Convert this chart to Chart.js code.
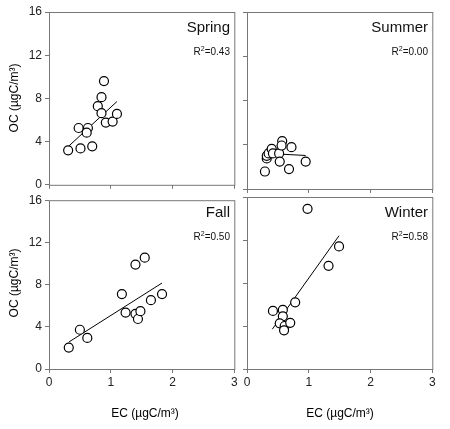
<!DOCTYPE html>
<html><head><meta charset="utf-8">
<script src="https://cdn.jsdelivr.net/npm/chart.js"></script>
<style>
body{margin:0;background:#fff;font-family:"Liberation Sans",Arial,sans-serif;}
canvas{position:absolute;}
.t{position:absolute;color:#111;white-space:nowrap;}
.s{font-size:15px;transform:translateY(-50%);}
.r{font-size:10px;transform:translateY(-50%);}
.ax{font-size:12px;color:#000;}
</style></head><body>
<canvas id="c0" style="left:0;top:0" width="240" height="195"></canvas>
<canvas id="c1" style="left:238px;top:0" width="200" height="195"></canvas>
<canvas id="c2" style="left:0;top:190px" width="240" height="201"></canvas>
<canvas id="c3" style="left:238px;top:190px" width="200" height="201"></canvas>
<div class="t s" style="right:220px;top:26px">Spring</div>
<div class="t r" style="right:220px;top:51px">R<sup style="font-size:7px">2</sup>=0.43</div>
<div class="t s" style="right:22px;top:26px">Summer</div>
<div class="t r" style="right:22px;top:51px">R<sup style="font-size:7px">2</sup>=0.00</div>
<div class="t s" style="right:220px;top:211px">Fall</div>
<div class="t r" style="right:220px;top:236px">R<sup style="font-size:7px">2</sup>=0.50</div>
<div class="t s" style="right:22px;top:211px">Winter</div>
<div class="t r" style="right:22px;top:236px">R<sup style="font-size:7px">2</sup>=0.58</div>
<div class="t ax" style="left:145px;top:406px;transform:translateX(-50%)">EC (µgC/m³)</div>
<div class="t ax" style="left:340px;top:406px;transform:translateX(-50%)">EC (µgC/m³)</div>
<div class="t ax" style="left:14px;top:98px;transform:translate(-50%,-50%) rotate(-90deg)">OC (µgC/m³)</div>
<div class="t ax" style="left:14px;top:283px;transform:translate(-50%,-50%) rotate(-90deg)">OC (µgC/m³)</div>
<script>
const xTicks=[0,1,2,3];
const yTicks=[0,4,8,12,16];
const springEC=[0.31,0.51,0.48,0.63,0.61,0.70,0.79,0.85,0.89,0.85,0.92,1.03,1.10];
const springOC=[3.19,3.37,5.26,5.26,4.83,3.56,7.28,8.11,9.6,6.63,5.76,5.85,6.56];
const springFitEC=[0.31,1.10], springFitOC=[3.53,7.71];
const summerEC=[0.29,0.32,0.32,0.35,0.40,0.42,0.52,0.57,0.56,0.53,0.68,0.72,0.95];
const summerOC=[1.58,2.76,3.0,3.22,3.62,3.22,3.22,4.33,3.93,2.48,1.80,3.78,2.48];
const summerFitEC=[0.31,0.95], summerFitOC=[3.22,3.03];
const fallEC=[0.32,0.50,0.62,1.18,1.24,1.40,1.55,1.40,1.44,1.48,1.65,1.83];
const fallOC=[2.03,3.72,2.95,7.1,5.35,9.9,10.55,5.23,4.74,5.48,6.52,7.1];
const fallFitEC=[0.32,1.83], fallFitOC=[2.55,8.15];
const winterEC=[0.98,1.49,1.32,0.78,0.42,0.58,0.58,0.53,0.61,0.60,0.70];
const winterOC=[14.9,11.4,9.6,6.2,5.4,5.5,4.9,4.25,4.0,3.6,4.3];
const winterFitEC=[0.41,1.49], winterFitOC=[3.7,12.4];

const boxPlugin={id:'box',afterDraw(c){const a=c.chartArea,x=c.ctx;x.save();x.strokeStyle='#777';x.lineWidth=1;x.strokeRect(a.left+0.5,a.top+0.5,a.right-a.left,a.bottom-a.top);x.restore();}};
function make(id,ex,oc,fx,fy,left,bottom){
  const pts=ex.map((v,i)=>({x:v,y:oc[i]}));
  const fit=fx.map((v,i)=>({x:v,y:fy[i]}));
  new Chart(document.getElementById(id),{
    type:'scatter',
    data:{datasets:[
      {data:pts,pointRadius:4.5,pointBackgroundColor:'#fff',pointBorderColor:'#000',pointBorderWidth:1.2,showLine:false},
      {type:'line',data:fit,borderColor:'#000',borderWidth:1,pointRadius:0,fill:false}
    ]},
    plugins:[boxPlugin],
    options:{responsive:false,animation:false,
      layout:{padding:{top:bottom?7:12,right:2,left:0,bottom:0}},
      plugins:{legend:{display:false},tooltip:{enabled:false}},
      scales:{
        x:{type:'linear',min:0,max:3,afterBuildTicks:s=>{s.ticks=xTicks.map(v=>({value:v}));},
           grid:{display:true,drawOnChartArea:false,tickLength:4,color:'#777'},border:{display:false},
           ticks:{display:bottom,color:'#222',font:{size:12,family:'Liberation Sans'},padding:2},
           afterFit:s=>{s.height=bottom?22:6;}},
        y:{min:0,max:16,afterBuildTicks:s=>{s.ticks=yTicks.map(v=>({value:v}));},
           grid:{display:true,drawOnChartArea:false,tickLength:4,color:'#777'},border:{display:false},
           ticks:{display:left,color:'#222',font:{size:12,family:'Liberation Sans'},padding:3},
           afterFit:s=>{s.width=left?49:9;}}
      }}
  });
}
make('c0',springEC,springOC,springFitEC,springFitOC,true,false);
make('c1',summerEC,summerOC,summerFitEC,summerFitOC,false,false);
make('c2',fallEC,fallOC,fallFitEC,fallFitOC,true,true);
make('c3',winterEC,winterOC,winterFitEC,winterFitOC,false,true);
</script></body></html>
